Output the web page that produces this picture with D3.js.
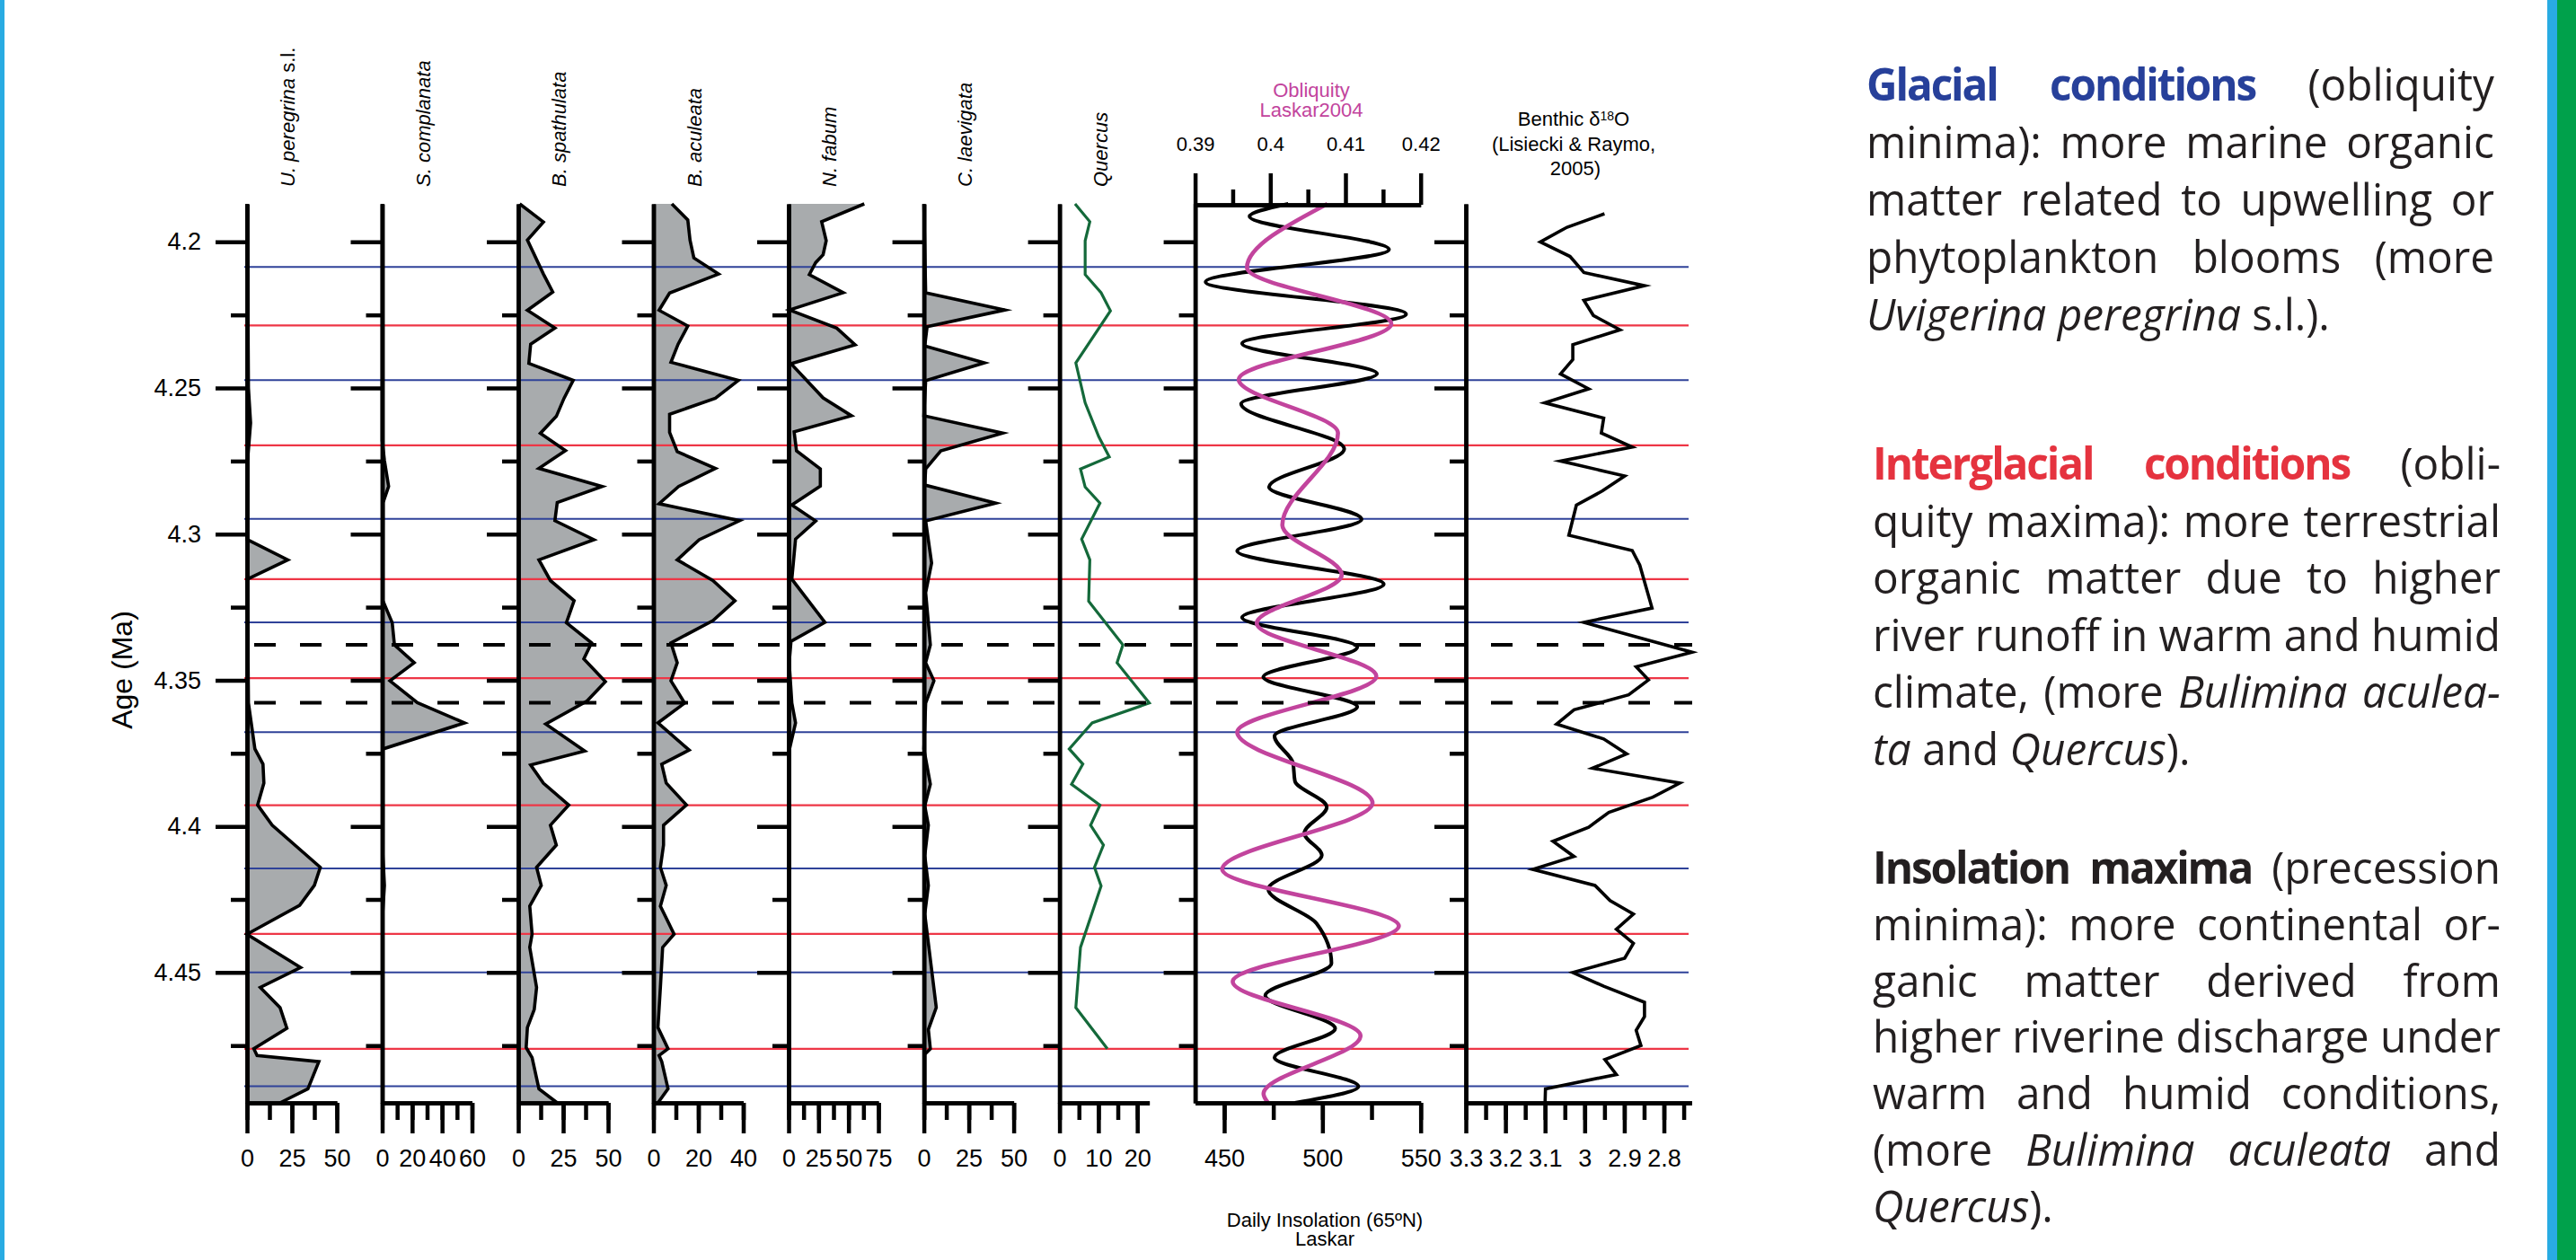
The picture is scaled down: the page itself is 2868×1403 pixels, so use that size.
<!DOCTYPE html>
<html>
<head>
<meta charset="utf-8">
<script src="https://cdn.jsdelivr.net/npm/d3@7"></script>
<style>
  html, body { margin: 0; padding: 0; background: #fff; }
  svg { display: block; }
</style>
</head>
<body>
<svg id="chart" width="2868" height="1403"></svg>
<script>
// ---------------------------------------------------------------
// Records: [age (Ma), value]
// ---------------------------------------------------------------
const AGE_DOMAIN = [4.187, 4.4946];
const ageMajor = [4.2, 4.25, 4.3, 4.35, 4.4, 4.45];
const ageMajorLabels = ["4.2", "4.25", "4.3", "4.35", "4.4", "4.45"];
const ageMinor = [4.225, 4.275, 4.325, 4.375, 4.425, 4.475];

// Uvigerina peregrina s.l. (%)
const uPeregrina = [
  [4.187,0],[4.22,0.5],[4.25,0.8],[4.262,2],[4.275,0.3],[4.3018,0],[4.3088,22.7],[4.3155,0],
  [4.335,0.5],[4.3578,0.8],[4.3735,4.4],[4.3787,8.9],[4.3852,9.4],[4.3927,5.9],[4.3996,14],
  [4.414,40.8],[4.4202,37.5],[4.427,29.3],[4.4369,0],[4.4483,29.8],[4.4551,7.4],[4.462,18.4],
  [4.4691,22.2],[4.4761,3.8],[4.4784,5.6],[4.4805,40],[4.4898,33.9],[4.4946,18.4]
];
// Siphonina complanata (%)
const sComplanata = [
  [4.187,0],[4.268,0],[4.2748,1.5],[4.2837,4.3],[4.2892,0.6],[4.3228,0.5],[4.3303,6.7],
  [4.3379,8.2],[4.344,21.4],[4.3502,5.2],[4.3577,23.5],[4.3646,55],[4.3735,0.6],[4.41,0.5],
  [4.4202,1.5],[4.43,0.3],[4.4946,0.3]
];
// Bolivina spathulata (%)
const bSpathulata = [
  [4.187,0.8],[4.1932,14],[4.1994,5.1],[4.211,14],[4.2172,19.2],[4.2234,5.1],[4.2295,20.4],
  [4.235,6.9],[4.2416,5.9],[4.2474,30.6],[4.2535,25.5],[4.2597,21.2],[4.2655,12.3],[4.2714,26.3],
  [4.2775,11.5],[4.2837,46.7],[4.2892,21.7],[4.2954,20.4],[4.3019,42.1],[4.3088,11.5],
  [4.3159,17.9],[4.3228,31.1],[4.3303,26.8],[4.3372,40.8],[4.3427,36.5],[4.3505,48.5],
  [4.3571,38.3],[4.365,15.3],[4.3742,37],[4.379,6.9],[4.3852,14],[4.3927,28.1],[4.3996,17.9],
  [4.4064,21.2],[4.414,10.2],[4.4202,12.8],[4.4273,6.4],[4.4369,7.7],[4.4414,6.4],[4.4551,10.2],
  [4.4627,8.9],[4.4688,5.1],[4.4757,4.4],[4.4791,7.7],[4.4898,11.5],[4.4946,21.7]
];
// Bulimina aculeata (%)
const bAculeata = [
  [4.187,8.2],[4.1925,15.3],[4.1994,16.3],[4.2055,18],[4.211,29],[4.2175,7.2],[4.2234,2.5],
  [4.2288,15.3],[4.235,11],[4.2412,7.8],[4.2474,37.8],[4.2535,27.6],[4.259,7.2],[4.2652,7.2],
  [4.2718,10.6],[4.2775,27.6],[4.2837,11.2],[4.2896,2.5],[4.2954,38.4],[4.3019,20.4],
  [4.3088,10.6],[4.3159,26.5],[4.3228,36.3],[4.3296,26.5],[4.3372,7.8],[4.344,10.6],
  [4.3502,7.8],[4.3578,13.9],[4.3646,2],[4.3739,15.9],[4.3787,3.7],[4.3852,5.7],[4.3927,14.7],
  [4.3996,4.5],[4.4064,4.5],[4.414,3.1],[4.4202,5.7],[4.4273,3.1],[4.4369,9.2],[4.4414,4.1],
  [4.4551,3.1],[4.4688,2],[4.4761,6.5],[4.4784,2.5],[4.4805,3.7],[4.4898,6.5],[4.4946,2]
];
// Nonion fabum (%)
const nFabum = [
  [4.187,63.2],[4.1931,27.6],[4.1996,31.4],[4.2044,28.8],[4.2071,22.6],[4.2112,17.3],
  [4.2174,45.6],[4.2233,0.8],[4.2295,40.2],[4.2352,55.5],[4.2417,2],[4.2534,28.8],[4.2595,52.5],
  [4.265,4.6],[4.2715,6.6],[4.2777,26.5],[4.2836,26.5],[4.29,2.7],[4.2955,22.6],[4.3017,5.8],
  [4.3154,2.7],[4.3302,30.3],[4.3367,2],[4.344,0.5],[4.3578,2.7],[4.3646,5.8],[4.3735,0.8],
  [4.4946,0.5]
];
// Cassidulina laevigata (%)
const cLaevigata = [
  [4.187,0],[4.2174,1],[4.2233,45.1],[4.229,1.8],[4.2356,0.5],[4.2414,33.7],[4.2475,1],
  [4.2595,0],[4.2654,43.9],[4.2715,9.4],[4.2777,1],[4.2832,0.5],[4.2894,40],[4.2955,1],
  [4.3099,4.3],[4.32,1],[4.3379,3.6],[4.344,1],[4.3502,5.6],[4.3578,1],[4.3735,0],[4.3856,3.6],
  [4.393,0.5],[4.3996,2.5],[4.41,0.5],[4.4202,2.5],[4.43,0.5],[4.44,2.5],[4.462,6.9],
  [4.4695,2.5],[4.4761,3.6],[4.478,0.5],[4.4946,0.5]
];
// Quercus pollen (%)
const quercus = [
  [4.187,4],[4.1931,7.8],[4.1996,6.6],[4.2112,6.6],[4.2174,10.7],[4.2236,13.1],[4.2414,4.2],
  [4.2551,6.6],[4.2667,10.1],[4.2736,12.8],[4.2777,5.4],[4.2839,6.6],[4.2894,10.4],[4.3017,5.7],
  [4.3088,7.8],[4.323,7.5],[4.3379,16.3],[4.344,14.8],[4.3578,23.1],[4.3646,8.4],[4.3735,2.5],
  [4.3787,6],[4.3856,3.1],[4.3927,10.4],[4.3996,8],[4.4064,11.3],[4.414,9],[4.4204,10.7],
  [4.4414,5.4],[4.462,4.2],[4.4761,12.3]
];
// Daily insolation 65°N (W/m2), turning points of the Laskar solution
const insolation = [
  [4.187,482.6],[4.1913,462.9],[4.2026,533.9],[4.2137,440.5],[4.2247,542.6],[4.2348,459.1],
  [4.2451,527.8],[4.2554,458.6],[4.2709,511.1],[4.2839,472.8],[4.2949,519.9],[4.3058,456.6],
  [4.3171,531.2],[4.3285,459.1],[4.3387,517.7],[4.3489,469.9],[4.3591,517.7],[4.3691,475.6],
  [4.3783,485],[4.3845,486],[4.3934,502.2],[4.4023,490.8],[4.4099,499.7],[4.4215,472.4],
  [4.4332,497],[4.4469,504.6],[4.4579,470.9],[4.4692,506.5],[4.4791,475.6],[4.489,518.3],
  [4.4946,486]
];
// Obliquity (Laskar 2004, radians)
const obliquity = [
  [4.187,0.4076],[4.2088,0.3969],[4.228,0.4161],[4.2471,0.3958],[4.2654,0.409],[4.2969,0.4016],
  [4.314,0.4095],[4.3305,0.3982],[4.3486,0.4141],[4.3678,0.3956],[4.392,0.4136],[4.4147,0.3936],
  [4.4341,0.4171],[4.4531,0.395],[4.4716,0.412],[4.4915,0.3991],[4.4946,0.3997]
];
// Benthic d18O stack (Lisiecki & Raymo, 2005), permil
const benthic = [
  [4.1904,2.95],[4.195,3.0445],[4.2,3.112],[4.205,3.037],[4.2105,3.002],[4.215,2.849],[4.22,3.002],
  [4.2252,2.978],[4.2301,2.911],[4.2352,3.03],[4.2403,3.03],[4.2452,3.061],[4.2503,2.99],
  [4.2551,3.101],[4.2603,2.952],[4.2654,2.958],[4.2702,2.88],[4.275,3.061],[4.2801,2.899],
  [4.2852,2.955],[4.2901,3.021],[4.3004,3.04],[4.3056,2.88],[4.3106,2.861],[4.3253,2.83],
  [4.3302,3.002],[4.3404,2.729],[4.3454,2.87],[4.3499,2.839],[4.355,2.889],[4.3601,3.027],
  [4.365,3.071],[4.3701,2.952],[4.3752,2.894],[4.3801,2.98],[4.3852,2.76],[4.39,2.828],
  [4.3952,2.939],[4.4003,2.99],[4.4051,3.08],[4.4103,3.027],[4.4147,3.131],[4.4202,2.974],
  [4.4254,2.936],[4.43,2.877],[4.4352,2.92],[4.44,2.877],[4.4451,2.899],[4.45,3.03],
  [4.4547,2.952],[4.4602,2.849],[4.4651,2.849],[4.4698,2.87],[4.475,2.858],[4.4798,2.949],
  [4.4849,2.92],[4.4898,3.099],[4.4946,3.1]
];

// Obliquity minima (glacials), maxima (interglacials) and the two dashed horizons
const glacialAges = [4.2086, 4.2473, 4.2948, 4.3302, 4.3678, 4.4144, 4.45, 4.4889];
const interglacialAges = [4.2286, 4.2696, 4.3154, 4.3493, 4.3928, 4.4368, 4.4761];
const dashedAges = [4.3379, 4.3577];

// Axis tick values
const upeTicks = [0, 25, 50];
const scoTicks = [0, 20, 40, 60];
const bspTicks = [0, 25, 50];
const bacTicks = [0, 20, 40];
const nfaTicks = [0, 25, 50, 75];
const claTicks = [0, 25, 50];
const queTicks = [0, 10, 20];
const insTicks = [450, 500, 550];
const oblTicks = [0.39, 0.40, 0.41, 0.42];
const oblTickLabels = ["0.39", "0.4", "0.41", "0.42"];
const bthTicks = [3.3, 3.2, 3.1, 3.0, 2.9, 2.8];
const bthTickLabels = ["3.3", "3.2", "3.1", "3", "2.9", "2.8"];

// ---------------------------------------------------------------
const svg = d3.select("#chart");
const AXIS_FONT = '"Liberation Sans", Arial, Helvetica, sans-serif';
const TEXT_FONT = '"Open Sans", "Noto Sans", sans-serif';
const GREY = "#a8abad";
const BLUE = "#2f4299";
const RED = "#ee3646";
const MAGENTA = "#c2449d";
const GREEN = "#14693a";

const Y_TOP = 227, Y_BOT = 1228;
const y = d3.scaleLinear().domain(AGE_DOMAIN).range([Y_TOP, Y_BOT]);

// side bands of the panel
svg.append("rect").attr("x", 0).attr("y", 0).attr("width", 5).attr("height", 1403).attr("fill", "#29abe2");
svg.append("rect").attr("x", 2836).attr("y", 0).attr("width", 11).attr("height", 1403).attr("fill", "#29abe2");
svg.append("rect").attr("x", 2847).attr("y", 0).attr("width", 21).attr("height", 1403).attr("fill", "#00a14b");

const layers = {
  fill: svg.append("g"),
  hlines: svg.append("g"),
  data: svg.append("g"),
  dashed: svg.append("g"),
  axes: svg.append("g"),
  labels: svg.append("g")
};

function styleAxis(g, size) {
  g.attr("font-size", null).attr("font-family", null);
  g.select(".domain").attr("stroke", "#000").attr("stroke-width", 4.5);
  g.selectAll(".tick line").attr("stroke", "#000").attr("stroke-width", 4.5);
  g.selectAll(".tick text").attr("fill", "#000")
    .style("font-family", AXIS_FONT).style("font-size", size + "px");
}

function ageAxis(x0, withLabels) {
  const gMinor = layers.axes.append("g").attr("transform", `translate(${x0},0)`)
    .call(d3.axisLeft(y).tickValues(ageMinor).tickSize(18).tickSizeOuter(0).tickFormat(""));
  styleAxis(gMinor, 27);
  const gMajor = layers.axes.append("g").attr("transform", `translate(${x0},0)`)
    .call(d3.axisLeft(y).tickValues(ageMajor).tickSize(35).tickSizeOuter(0).tickPadding(16)
      .tickFormat(withLabels ? (d, i) => ageMajorLabels[i] : ""));
  styleAxis(gMajor, 27);
}

function bottomAxis(x, minorValues, majorValues, labels) {
  const gMinor = layers.axes.append("g").attr("transform", `translate(0,${Y_BOT})`)
    .call(d3.axisBottom(x).tickValues(minorValues).tickSize(19).tickSizeOuter(0).tickFormat(""));
  styleAxis(gMinor, 27);
  const gMajor = layers.axes.append("g").attr("transform", `translate(0,${Y_BOT})`)
    .call(d3.axisBottom(x).tickValues(majorValues).tickSize(34).tickSizeOuter(0).tickPadding(18)
      .tickFormat((d, i) => labels ? labels[i] : String(d)));
  styleAxis(gMajor, 27);
}

// ---------------------------------------------------------------
// Species columns (100 px wide each)
const columns = [
  { label: [["U. peregrina", true], [" s.l.", false]], data: uPeregrina, x0: 275, domain: [0, 50], step: 12.5, ticks: upeTicks, fill: true },
  { label: [["S. complanata", true]], data: sComplanata, x0: 425.5, domain: [0, 60], step: 10, ticks: scoTicks, fill: true },
  { label: [["B. spathulata", true]], data: bSpathulata, x0: 577, domain: [0, 50], step: 12.5, ticks: bspTicks, fill: true },
  { label: [["B. aculeata", true]], data: bAculeata, x0: 727.5, domain: [0, 40], step: 10, ticks: bacTicks, fill: true },
  { label: [["N. fabum", true]], data: nFabum, x0: 878, domain: [0, 75], step: 12.5, ticks: nfaTicks, fill: true },
  { label: [["C. laevigata", true]], data: cLaevigata, x0: 1028.6, domain: [0, 50], step: 12.5, ticks: claTicks, fill: true },
  { label: [["Quercus", true]], data: quercus, x0: 1179.6, domain: [0, 23.1], step: 5, ticks: queTicks, fill: false }
];

columns.forEach((c, ci) => {
  const x = d3.scaleLinear().domain(c.domain).range([c.x0, c.x0 + 100]);
  if (c.fill) {
    layers.fill.append("path")
      .attr("d", d3.area().y(d => y(d[0])).x0(x(0)).x1(d => x(d[1]))(c.data))
      .attr("fill", GREY);
    layers.data.append("path")
      .attr("d", d3.line().y(d => y(d[0])).x(d => x(d[1]))(c.data))
      .attr("fill", "none").attr("stroke", "#000").attr("stroke-width", 3.6)
      .attr("stroke-linejoin", "miter").attr("stroke-miterlimit", 6);
  } else {
    layers.data.append("path")
      .attr("d", d3.line().y(d => y(d[0])).x(d => x(d[1]))(c.data))
      .attr("fill", "none").attr("stroke", GREEN).attr("stroke-width", 3.2)
      .attr("stroke-linejoin", "miter");
  }
  const minor = d3.range(c.domain[0], c.ticks[c.ticks.length - 1] + 1e-6, c.step);
  bottomAxis(x, minor, c.ticks);
  ageAxis(c.x0, ci === 0);

  const t = layers.labels.append("text")
    .attr("transform", `translate(${c.x0 + 53},208) rotate(-90)`)
    .style("font-family", AXIS_FONT).style("font-size", "22px").attr("fill", "#000");
  c.label.forEach(([s, it]) => t.append("tspan").text(s).style("font-style", it ? "italic" : "normal"));
});

// Age axis title
layers.labels.append("text")
  .attr("transform", "translate(147,746) rotate(-90)")
  .attr("text-anchor", "middle")
  .style("font-family", AXIS_FONT).style("font-size", "32px")
  .text("Age (Ma)");

// ---------------------------------------------------------------
// Insolation + obliquity panel
const xIns = d3.scaleLinear().domain([435.2, 550]).range([1330.6, 1581.7]);
const xObl = d3.scaleLinear().domain([0.39, 0.42]).range([1330.6, 1581.7]);

layers.data.append("path")
  .attr("d", d3.line().y(d => y(d[0])).x(d => xIns(d[1])).curve(d3.curveMonotoneY)(insolation))
  .attr("fill", "none").attr("stroke", "#000").attr("stroke-width", 4);
layers.data.append("path")
  .attr("d", d3.line().y(d => y(d[0])).x(d => xObl(d[1])).curve(d3.curveMonotoneY)(obliquity))
  .attr("fill", "none").attr("stroke", MAGENTA).attr("stroke-width", 4.6);

bottomAxis(xIns, [450, 475, 500, 525, 550], insTicks);
ageAxis(1330.6, false);
{
  const gMinor = layers.axes.append("g").attr("transform", `translate(0,228)`)
    .call(d3.axisTop(xObl).tickValues([0.395, 0.405, 0.415]).tickSize(17).tickSizeOuter(0).tickFormat(""));
  styleAxis(gMinor, 22);
  const gMajor = layers.axes.append("g").attr("transform", `translate(0,228)`)
    .call(d3.axisTop(xObl).tickValues(oblTicks).tickSize(35).tickSizeOuter(0).tickPadding(25)
      .tickFormat((d, i) => oblTickLabels[i]));
  styleAxis(gMajor, 22);
}

const obLab = layers.labels.append("g").attr("fill", MAGENTA)
  .style("font-family", AXIS_FONT).style("font-size", "22px").attr("text-anchor", "middle");
obLab.append("text").attr("x", 1460).attr("y", 108).text("Obliquity");
obLab.append("text").attr("x", 1460).attr("y", 130).text("Laskar2004");

const insLab = layers.labels.append("g").attr("fill", "#000")
  .style("font-family", AXIS_FONT).style("font-size", "22px").attr("text-anchor", "middle");
insLab.append("text").attr("x", 1475).attr("y", 1366).text("Daily Insolation (65ºN)");
insLab.append("text").attr("x", 1475).attr("y", 1387).text("Laskar");

// ---------------------------------------------------------------
// Benthic d18O panel
const xBth = d3.scaleLinear().domain([3.3, 2.73]).range([1632, 1883.4]);
layers.data.append("path")
  .attr("d", d3.line().y(d => y(d[0])).x(d => xBth(d[1]))(benthic))
  .attr("fill", "none").attr("stroke", "#000").attr("stroke-width", 3.6)
  .attr("stroke-linejoin", "miter").attr("stroke-miterlimit", 6);
bottomAxis(xBth, d3.range(0, 12).map(i => +(3.3 - i * 0.05).toFixed(2)), bthTicks, bthTickLabels);
ageAxis(1632, false);

const bthLab = layers.labels.append("g").attr("fill", "#000")
  .style("font-family", AXIS_FONT).style("font-size", "22px").attr("text-anchor", "middle");
{
  const t = bthLab.append("text").attr("x", 1752).attr("y", 140);
  t.append("tspan").text("Benthic δ");
  t.append("tspan").text("18").style("font-size", "14px").attr("dy", -6);
  t.append("tspan").text("O").attr("dy", 6);
}
bthLab.append("text").attr("x", 1752).attr("y", 168).text("(Lisiecki & Raymo,");
bthLab.append("text").attr("x", 1754).attr("y", 195).text("2005)");

// ---------------------------------------------------------------
// Horizontal reference lines across all panels
const H_X0 = 272, H_X1 = 1880;
layers.hlines.selectAll("line.gl").data(glacialAges).join("line")
  .attr("x1", H_X0).attr("x2", H_X1).attr("y1", d => y(d)).attr("y2", d => y(d))
  .attr("stroke", BLUE).attr("stroke-width", 2);
layers.hlines.selectAll("line.ig").data(interglacialAges).join("line")
  .attr("x1", H_X0).attr("x2", H_X1).attr("y1", d => y(d)).attr("y2", d => y(d))
  .attr("stroke", RED).attr("stroke-width", 2.2);
layers.dashed.selectAll("line").data(dashedAges).join("line")
  .attr("x1", 283).attr("x2", 1884).attr("y1", d => y(d)).attr("y2", d => y(d))
  .attr("stroke", "#000").attr("stroke-width", 4).attr("stroke-dasharray", "24 27");

// ---------------------------------------------------------------
// Explanatory text (justified paragraphs)
const paragraphs = [
  { x0: 2078, x1: 2777, y0: 112, dy: 64.1, lines: [
    [["Glacial conditions", "bb"], [" (obliquity", "n"]],
    [["minima):  more marine organic", "n"]],
    [["matter related to upwelling or", "n"]],
    [["phytoplankton blooms (more", "n"]],
    [["Uvigerina peregrina", "i"], [" s.l.).", "n"]]
  ]},
  { x0: 2085, x1: 2784, y0: 534, dy: 63.6, lines: [
    [["Interglacial conditions", "br"], [" (obli-", "n"]],
    [["quity maxima): more terrestrial", "n"]],
    [["organic matter due to higher", "n"]],
    [["river runoff in warm and humid", "n"]],
    [["climate, (more ", "n"], ["Bulimina aculea-", "i"]],
    [["ta", "i"], [" and ", "n"], ["Quercus", "i"], [").", "n"]]
  ]},
  { x0: 2085, x1: 2784, y0: 984, dy: 62.8, lines: [
    [["Insolation maxima", "b"], [" (precession", "n"]],
    [["minima): more continental or-", "n"]],
    [["ganic matter derived from", "n"]],
    [["higher riverine discharge under", "n"]],
    [["warm and humid conditions,", "n"]],
    [["(more ", "n"], ["Bulimina aculeata", "i"], [" and", "n"]],
    [["Quercus", "i"], [").", "n"]]
  ]}
];

const TEXT_SIZE = 50;
const styles = {
  n:  { fill: "#231f20", weight: 400, italic: false, ls: 0 },
  i:  { fill: "#231f20", weight: 400, italic: true, ls: 0 },
  b:  { fill: "#231f20", weight: 700, italic: false, ls: -2.2 },
  bb: { fill: "#27409a", weight: 700, italic: false, ls: -2.2 },
  br: { fill: "#e5333f", weight: 700, italic: false, ls: -2.2 }
};

function tokenize(line) {
  const words = [];
  let cur = [];
  line.forEach(([s, st]) => {
    s.split(/( +)/).forEach(part => {
      if (/^ +$/.test(part)) { if (cur.length) { words.push(cur); cur = []; } }
      else if (part) cur.push([part, st]);
    });
  });
  if (cur.length) words.push(cur);
  return words;
}

function makeWord(g, pieces, yb) {
  const t = g.append("text").attr("y", yb)
    .style("font-family", TEXT_FONT).style("font-size", TEXT_SIZE + "px");
  pieces.forEach(([s, st]) => {
    const k = styles[st];
    t.append("tspan").text(s).attr("fill", k.fill)
      .style("font-weight", k.weight).style("font-style", k.italic ? "italic" : "normal")
      .style("letter-spacing", k.ls + "px");
  });
  return t;
}

// horizontal compression derived from a naturally spaced line
const probe = makeWord(svg, [["higher riverine discharge under", "n"]], -100);
const natural = probe.node().getComputedTextLength();
probe.remove();
const sx = Math.max(0.75, Math.min(1, 699 / natural));
const SPACE = 0.26 * TEXT_SIZE;

paragraphs.forEach(p => {
  const g = svg.append("g").attr("transform", `translate(${p.x0},0) scale(${sx},1)`);
  const width = (p.x1 - p.x0) / sx;
  p.lines.forEach((line, li) => {
    const yb = p.y0 + li * p.dy;
    const words = tokenize(line);
    const nodes = words.map(w => makeWord(g, w, yb));
    const widths = nodes.map(n => n.node().getComputedTextLength());
    const last = li === p.lines.length - 1;
    const gap = (last || words.length < 2) ? SPACE : (width - d3.sum(widths)) / (words.length - 1);
    let x = 0;
    nodes.forEach((n, i) => { n.attr("x", x); x += widths[i] + gap; });
  });
});
</script>
</body>
</html>
